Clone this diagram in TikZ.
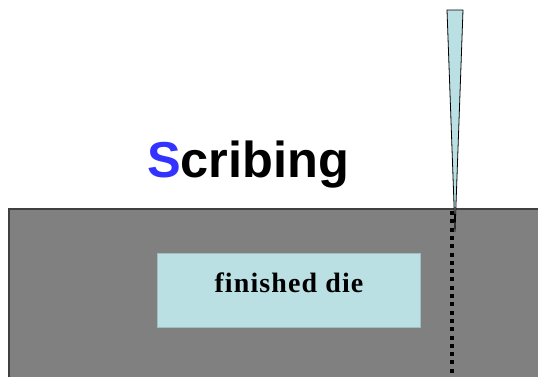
\documentclass[tikz,border=0pt]{standalone}
\usepackage{fontspec}
\setmainfont{Liberation Serif}
\newfontfamily\arialfont{Liberation Sans}
\newfontfamily\dieserif[LetterSpace=4]{Liberation Serif}
\definecolor{wafergray}{HTML}{808080}
\definecolor{waferedge}{HTML}{404040}
\definecolor{dieblue}{HTML}{BAE0E4}
\definecolor{scribeblue}{HTML}{3333FF}
\begin{document}
\begin{tikzpicture}[x=1pt,y=-1pt,
  wafer/.style={fill=wafergray,draw=waferedge,line width=1.5pt},
  diebox/.style={fill=dieblue,draw=dieblue!85!black,line width=0.6pt},
  scribeline/.style={draw=black,line width=3.5pt,dash pattern=on 4pt off 4.3pt},
  bladeshape/.style={fill=dieblue,draw=black,line width=0.8pt,line join=miter}]
\useasboundingbox (0,0) rectangle (538,376);
\fill[white] (0,0) rectangle (538,376);
\draw[wafer] (9,209) rectangle (550,390);
\draw[diebox] (157,253) rectangle (420,327);
\node[anchor=base,inner sep=0pt,font=\dieserif\fontsize{28}{32}\selectfont\bfseries] (dietext) at (289,292.5) {finished die};
\node[anchor=base west,inner sep=0pt,font=\arialfont\fontsize{50.5}{56}\selectfont\bfseries] (title) at (147,177) {\textcolor{scribeblue}{S}cribing};
\coordinate (cuttop) at (452,211);
\coordinate (cutbot) at (452,380);
\draw[scribeline] (cuttop) -- (cutbot);
\draw[bladeshape] (447,10) -- (463,10) -- (455,232) -- cycle;
\end{tikzpicture}
\end{document}
